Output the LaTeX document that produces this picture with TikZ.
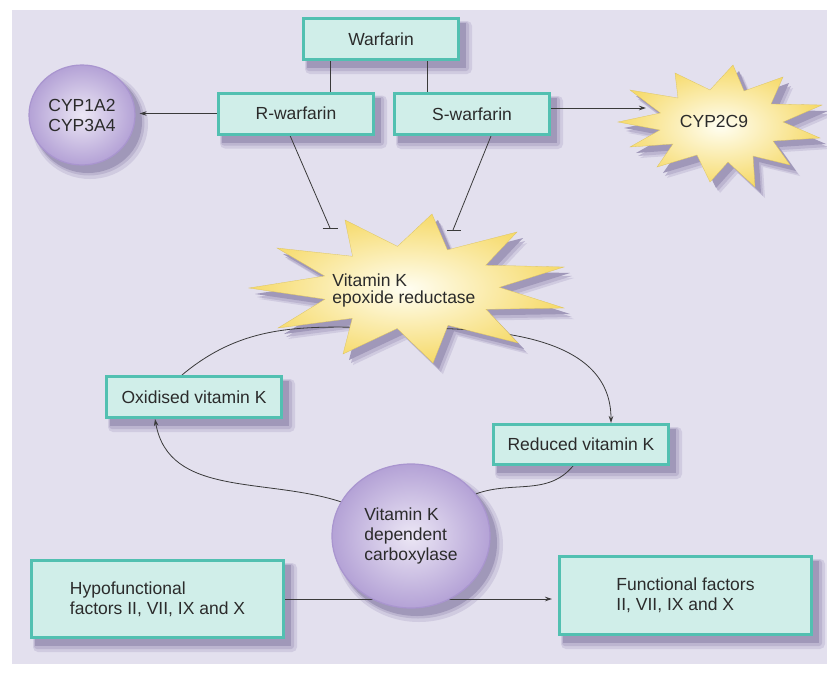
\documentclass[tikz,border=0pt]{standalone}
\usepackage{fontspec}
\setmainfont{Liberation Sans}
\usetikzlibrary{shapes.geometric,arrows.meta,calc}
\definecolor{bgl}{HTML}{E3E0EE}
\definecolor{sdlight}{RGB}{208,203,224}
\definecolor{sdmid}{RGB}{188,181,208}
\definecolor{sddark}{RGB}{160,152,185}
\definecolor{boxfill}{HTML}{D0EEE9}
\definecolor{boxedge}{HTML}{52C0B1}
\definecolor{purin}{HTML}{ECE7F5}
\definecolor{purout}{HTML}{B4A2D6}
\definecolor{puredge}{HTML}{A995CF}
\definecolor{starin}{HTML}{FFFEF2}
\definecolor{starout}{HTML}{F6DA6A}
\definecolor{txt}{HTML}{2B2B2B}
\definecolor{lnc}{HTML}{3A3A3A}
\pgfdeclarelayer{bglayer}
\pgfdeclarelayer{lines}
\pgfsetlayers{bglayer,lines,main}
\newcommand\rshad[1]{%
  \path[fill=sdlight,rounded corners=5pt] ($(#1.north west)+(3,4)$) rectangle ($(#1.south east)+(12,13)$);
  \path[fill=sdmid,rounded corners=3pt] ($(#1.north west)+(4,5)$) rectangle ($(#1.south east)+(9,10)$);
  \path[fill=sddark] ($(#1.north west)+(5,6)$) rectangle ($(#1.south east)+(6,7)$);}
\newcommand\eshad[3]{%
  \path[fill=sdlight] ($(#1.center)+(8,9)$) ellipse [x radius=#2+4, y radius=#3+4];
  \path[fill=sdmid] ($(#1.center)+(7,8)$) ellipse [x radius=#2+1.5, y radius=#3+1.5];
  \path[fill=sddark] ($(#1.center)+(6,7)$) ellipse [x radius=#2, y radius=#3];}
\def\vkorpath{(345,220) -- (397.5,246.4) -- (432,214) -- (447.4,249.9) -- (517,232) -- (485.7,265.2) -- (564,267) -- (499.3,287.3) -- (564,308) -- (486,309.3) -- (518,343) -- (448,325.3) -- (433,363) -- (397.2,328.5) -- (343,354) -- (352.3,318.3) -- (278,328) -- (325,299.2) -- (249,288) -- (324.7,276) -- (277,248) -- (352.6,256.3) -- cycle}
\def\cyppath{(618,122) -- (660.5,113) -- (630,90) -- (678,98) -- (675,73) -- (710,90) -- (733,65) -- (744,91) -- (783,77) -- (771,104) -- (822,105) -- (783,122) -- (820,138) -- (773,141) -- (790,165) -- (753,156) -- (755,187) -- (728,162) -- (710,182) -- (697,155) -- (657,167) -- (673,144) -- (630,147) -- (660,130) -- cycle}
\begin{document}
\begin{tikzpicture}[x=1pt,y=-1pt,
  lbl/.style={text=txt,font=\fontsize{17.5}{20}\selectfont},
  box/.style={lbl,draw=boxedge,line width=3pt,fill=boxfill,inner sep=0pt,align=left},
  purple/.style={lbl,ellipse,draw=puredge,line width=1.2pt,inner color=purin,outer color=purout,inner sep=0pt,align=left},
  starsh/.style={inner color=starin,outer color=starout,draw=starout!90!black,line width=0.3pt},
  ln/.style={draw=lnc,line width=0.8pt},
  arr/.style={ln,-{Stealth[length=7pt,width=4.5pt]}}]
\useasboundingbox (0,0) rectangle (827,672);
\begin{pgfonlayer}{bglayer}
  \fill[white] (0,0) rectangle (827,672);
  \fill[bgl] (12,10) rectangle (827,664);
\end{pgfonlayer}

% nodes
\node[box,minimum width=155,minimum height=41] (warf) at (381,39) {Warfarin};
\node[box,minimum width=155,minimum height=41] (rwarf) at (296,113.5) {R-warfarin};
\node[box,minimum width=155,minimum height=41] (swarf) at (472,114) {S-warfarin};
\node[purple,minimum width=106,minimum height=100,align=center] (cyp1) at (82,115) {CYP1A2\\CYP3A4};

\path[starsh] \cyppath;
\node[lbl] (cyp2) at (714,121) {CYP2C9};
\path[starsh] \vkorpath;
\node[lbl,align=left,font=\fontsize{17.5}{17}\selectfont] (vkor) at (404,290) {Vitamin K\\epoxide reductase};

\node[box,minimum width=175,minimum height=41] (ox) at (194,397) {Oxidised vitamin K};
\node[box,minimum width=175,minimum height=40] (red) at (581,444.5) {Reduced vitamin K};
\node[purple,minimum width=158,minimum height=144] (carb) at (411,536) {Vitamin K\\dependent\\carboxylase};
\node[box,minimum width=252,minimum height=77] (hypo) at (157.5,599) {Hypofunctional\\factors II, VII, IX and X};
\node[box,minimum width=252,minimum height=78] (func) at (685.5,595.5) {Functional factors\\II, VII, IX and X};

\coordinate (c1) at (330,0);
\coordinate (c2) at (427,0);
\coordinate (rT) at (330,228);
\coordinate (sT) at (453,230);
\coordinate (ctop) at (410,328);
\coordinate (c9) at (646,108);

\begin{pgfonlayer}{lines}
  % shadows first, then connectors
  \rshad{warf}\rshad{rwarf}\rshad{swarf}\rshad{ox}\rshad{red}\rshad{hypo}\rshad{func}
  \eshad{cyp1}{54}{51}
  \eshad{carb}{80}{73}
  \path[fill=sdlight,shift={(10,11)}] \vkorpath;
  \path[fill=sdmid,shift={(8,9)}] \vkorpath;
  \path[fill=sddark,shift={(6,6)}] \vkorpath;
  \path[fill=sdlight,shift={(10,11)}] \cyppath;
  \path[fill=sdmid,shift={(8,9)}] \cyppath;
  \path[fill=sddark,shift={(6,6)}] \cyppath;
  \draw[ln] (warf.south -| c1) -- (rwarf.north -| c1);
  \draw[ln] (warf.south -| c2) -- (swarf.north -| c2);
  \draw[arr,shorten >=4pt] (rwarf.west) -- (rwarf.west -| cyp1.east);
  \draw[arr] (swarf.east |- c9) -- (c9);
  \draw[ln] ($(rwarf.south)+(-6,0)$) -- (rT);
  \draw[ln] ($(rT)+(-7.5,0)$) -- ($(rT)+(7.5,0)$);
  \draw[ln] ($(swarf.south)+(19,0)$) -- (sT);
  \draw[ln] ($(sT)+(-6,0)$) -- ($(sT)+(8,0)$);
  \draw[arr] ($(ox.north)+(-12,0)$) to[out=40,in=180] (ctop) to[out=0,in=90] ($(red.north)+(30,0)$);
  \draw[ln] ($(red.south)+(-8,0)$) to[out=230,in=20] (carb.33);
  \draw[arr] (carb.154) to[out=162,in=-80] ($(ox.south)+(-39,0)$);
  \draw[arr,shorten >=6pt] (hypo.east) -- (hypo.east -| func.west);
\end{pgfonlayer}
\end{tikzpicture}
\end{document}
